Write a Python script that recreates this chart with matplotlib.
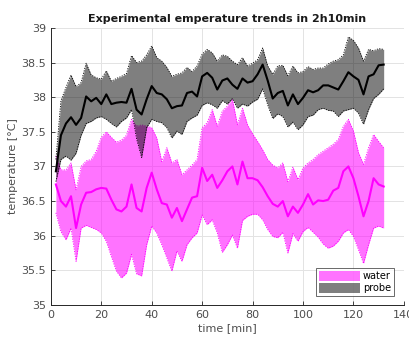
import matplotlib
matplotlib.use('Agg')
import matplotlib.pyplot as plt
import matplotlib.patches as mpatches

# time axis [min]
time = [2, 4, 6, 8, 10, 12, 14, 16, 18, 20, 22, 24, 26, 28, 30, 32, 34, 36, 38, 40,
        42, 44, 46, 48, 50, 52, 54, 56, 58, 60, 62, 64, 66, 68, 70, 72, 74, 76, 78, 80,
        82, 84, 86, 88, 90, 92, 94, 96, 98, 100, 102, 104, 106, 108, 110, 112, 114, 116, 118, 120,
        122, 124, 126, 128, 130, 132]

# probe: mean and band limits
probe_mean = [36.93, 37.45, 37.62, 37.71, 37.60, 37.70, 38.01, 37.94, 37.99, 37.90,
              38.04, 37.90, 37.92, 37.93, 37.92, 38.12, 37.82, 37.75, 37.97, 38.16,
              38.06, 38.04, 37.97, 37.84, 37.87, 37.88, 38.06, 38.08, 38.01, 38.30,
              38.35, 38.28, 38.11, 38.24, 38.27, 38.18, 38.12, 38.27, 38.21, 38.23,
              38.33, 38.47, 38.24, 37.98, 38.06, 38.09, 37.88, 38.04, 37.90, 37.99,
              38.10, 38.07, 38.10, 38.17, 38.17, 38.14, 38.11, 38.23, 38.36, 38.30,
              38.25, 38.04, 38.30, 38.33, 38.46, 38.47]
probe_upper = [37.10, 37.95, 38.14, 38.32, 38.15, 38.21, 38.49, 38.32, 38.28, 38.26,
               38.38, 38.23, 38.27, 38.30, 38.34, 38.60, 38.50, 38.52, 38.61, 38.74,
               38.57, 38.52, 38.43, 38.30, 38.33, 38.35, 38.43, 38.37, 38.45, 38.62,
               38.69, 38.64, 38.52, 38.61, 38.59, 38.52, 38.47, 38.57, 38.45, 38.49,
               38.54, 38.71, 38.45, 38.33, 38.45, 38.46, 38.31, 38.45, 38.35, 38.37,
               38.44, 38.40, 38.42, 38.42, 38.48, 38.52, 38.54, 38.61, 38.87, 38.82,
               38.71, 38.52, 38.69, 38.67, 38.70, 38.69]
probe_lower = [36.78, 37.10, 37.15, 37.09, 37.19, 37.45, 37.62, 37.65, 37.70, 37.72,
               37.68, 37.62, 37.57, 37.65, 37.70, 37.82, 37.40, 37.13, 37.56, 37.68,
               37.65, 37.63, 37.56, 37.41, 37.51, 37.46, 37.65, 37.70, 37.74, 37.88,
               37.92, 37.89, 37.84, 37.95, 37.90, 37.98, 37.84, 37.90, 37.87, 37.93,
               37.97, 38.12, 37.89, 37.69, 37.76, 37.72, 37.57, 37.64, 37.53, 37.60,
               37.72, 37.74, 37.82, 37.84, 37.81, 37.80, 37.72, 37.80, 37.82, 37.84,
               37.77, 37.61, 37.82, 37.98, 38.04, 38.12]

# water: mean and band limits
water_mean = [36.74, 36.50, 36.42, 36.57, 36.11, 36.45, 36.62, 36.63, 36.67, 36.69,
              36.68, 36.52, 36.38, 36.35, 36.42, 36.74, 36.40, 36.35, 36.69, 36.91,
              36.67, 36.47, 36.45, 36.26, 36.40, 36.21, 36.38, 36.55, 36.57, 36.98,
              36.79, 36.88, 36.69, 36.80, 36.93, 37.00, 36.74, 37.07, 36.83, 36.83,
              36.80, 36.70, 36.57, 36.46, 36.42, 36.50, 36.28, 36.42, 36.33, 36.45,
              36.60, 36.45, 36.51, 36.50, 36.52, 36.65, 36.69, 36.93, 37.00, 36.83,
              36.57, 36.28, 36.50, 36.83, 36.74, 36.71]
water_upper = [37.15, 36.95, 36.95, 37.05, 36.66, 37.00, 37.08, 37.10, 37.22, 37.42,
               37.50, 37.42, 37.35, 37.38, 37.45, 37.68, 37.58, 37.60, 37.58, 37.56,
               37.41, 37.07, 37.27, 37.05, 37.10, 36.88, 36.95, 37.02, 37.10, 37.56,
               37.63, 37.82, 37.58, 37.80, 37.87, 37.97, 37.60, 37.84, 37.60, 37.47,
               37.36, 37.24, 37.10, 37.02, 36.98, 37.05, 36.78, 36.99, 36.81, 36.98,
               37.05, 37.10, 37.17, 37.22, 37.27, 37.32, 37.39, 37.58, 37.68, 37.51,
               37.20, 37.03, 37.27, 37.46, 37.36, 37.27]
water_lower = [36.33, 36.06, 35.94, 36.11, 35.63, 36.11, 36.15, 36.12, 36.09, 36.04,
               35.92, 35.70, 35.49, 35.39, 35.46, 35.73, 35.45, 35.42, 35.87, 36.14,
               36.04, 35.87, 35.68, 35.49, 35.78, 35.63, 35.87, 35.97, 36.04, 36.30,
               36.16, 36.23, 36.04, 35.76, 35.87, 36.01, 35.82, 36.22, 36.28, 36.31,
               36.31, 36.23, 36.09, 35.99, 35.97, 36.05, 35.75, 36.03, 35.92, 36.06,
               36.12, 36.05, 35.98, 35.88, 35.82, 35.85, 35.92, 36.04, 36.09, 35.99,
               35.80, 35.60, 35.87, 36.11, 36.14, 36.11]

labels = ['water', 'probe']

plt.rcParams['font.family'] = ['DejaVu Sans']
fig = plt.figure(figsize=(4.1, 3.4), dpi=100)
ax = fig.add_axes([0.124, 0.103, 0.861, 0.815])

# water band
ax.fill_between(time, water_lower, water_upper, color='magenta', alpha=0.55, lw=0, zorder=2)
ax.plot(time, water_upper, color='magenta', ls=(0, (1.5, 1.5)), lw=0.6, zorder=3)
ax.plot(time, water_lower, color='magenta', ls=(0, (1.5, 1.5)), lw=0.6, zorder=3)
ax.plot(time, water_mean, color='magenta', lw=1.5, zorder=5)

# probe band
ax.fill_between(time, probe_lower, probe_upper, color='black', alpha=0.5, lw=0, zorder=3)
ax.plot(time, probe_upper, color='black', ls=(0, (1.5, 1.5)), lw=0.6, zorder=4)
ax.plot(time, probe_lower, color='black', ls=(0, (1.5, 1.5)), lw=0.6, zorder=4)
ax.plot(time, probe_mean, color='black', lw=1.5, zorder=5)

ax.set_xlim(0, 140)
ax.set_ylim(35, 39)
ax.set_xticks(range(0, 141, 20))
ax.set_yticks([35, 35.5, 36, 36.5, 37, 37.5, 38, 38.5, 39])
ax.set_yticklabels(['35', '35.5', '36', '36.5', '37', '37.5', '38', '38.5', '39'])
ax.grid(True, color='#e3e3e3', lw=0.7, zorder=0)
ax.set_axisbelow(True)
for side in ['top', 'right']:
    ax.spines[side].set_visible(False)
for side in ['left', 'bottom']:
    ax.spines[side].set_color('#262626')
    ax.spines[side].set_linewidth(0.7)
ax.tick_params(direction='in', length=3, width=0.6, labelsize=8, colors='#262626',
               labelcolor='#4d4d4d')

ax.set_xlabel('time [min]', fontsize=8, color='#4d4d4d', labelpad=2)
ax.set_ylabel('temperature [°C]', fontsize=8, color='#4d4d4d', labelpad=2)
ax.set_title('Experimental emperature trends in 2h10min', fontsize=8, fontweight='bold',
             color='#1a1a1a', pad=4)

handles = [mpatches.Patch(facecolor='magenta', alpha=0.55, edgecolor='none'),
           mpatches.Patch(facecolor='black', alpha=0.5, edgecolor='none')]
leg = ax.legend(handles, labels, loc='lower right', fontsize=7, frameon=True,
                fancybox=False, edgecolor='#262626', handlelength=4.2, handleheight=1.2,
                handletextpad=0.3, borderpad=0.3, labelspacing=0.2,
                bbox_to_anchor=(0.985, 0.015))
leg.get_frame().set_linewidth(0.6)

fig.savefig('out.png', dpi=100)
